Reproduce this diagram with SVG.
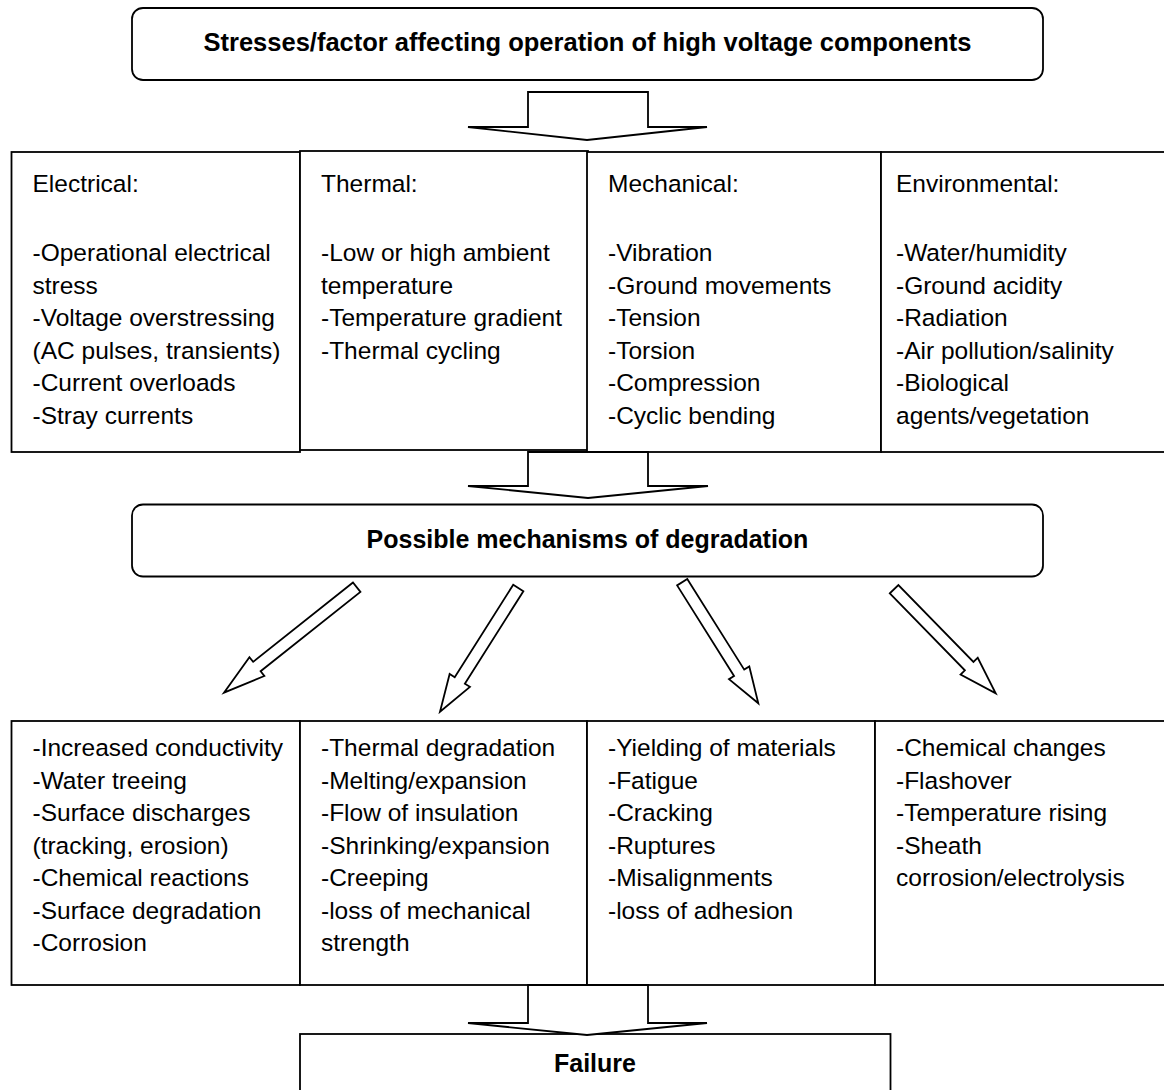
<svg xmlns="http://www.w3.org/2000/svg" width="1164" height="1090" viewBox="0 0 1164 1090">
<style>
.box{fill:#fff;stroke:#000;stroke-width:1.8}
.arr{fill:#fff;stroke:#000;stroke-width:1.8;stroke-linejoin:miter}
.t{font-family:"Liberation Sans",Arial,sans-serif;font-size:24.5px;fill:#000}
.b{font-family:"Liberation Sans",Arial,sans-serif;font-size:25px;font-weight:bold;fill:#000;text-anchor:middle}
</style>
<rect width="1164" height="1090" fill="#fff"/>

<g id="top">
<rect class="box" x="132" y="8" width="911" height="72" rx="11"/>
<text class="b" x="587.5" y="51" style="font-size:25.5px">Stresses/factor affecting operation of high voltage components</text>
</g>

<g id="electrical">
<rect class="box" x="11.5" y="152" width="288.5" height="300"/>
<text class="t" x="32.5" y="191.5">Electrical:</text>
<text class="t"><tspan x="32.5" y="261">-Operational electrical</tspan><tspan x="32.5" dy="32.5">stress</tspan><tspan x="32.5" dy="32.5">-Voltage overstressing</tspan><tspan x="32.5" dy="32.5">(AC pulses, transients)</tspan><tspan x="32.5" dy="32.5">-Current overloads</tspan><tspan x="32.5" dy="32.5">-Stray currents</tspan></text>
</g>
<g id="thermal">
<rect class="box" x="300" y="151" width="288" height="299"/>
<text class="t" x="321" y="191.5">Thermal:</text>
<text class="t"><tspan x="321" y="261">-Low or high ambient</tspan><tspan x="321" dy="32.5">temperature</tspan><tspan x="321" dy="32.5">-Temperature gradient</tspan><tspan x="321" dy="32.5">-Thermal cycling</tspan></text>
</g>
<g id="mechanical">
<rect class="box" x="587" y="152" width="294" height="300"/>
<text class="t" x="608" y="191.5">Mechanical:</text>
<text class="t"><tspan x="608" y="261">-Vibration</tspan><tspan x="608" dy="32.5">-Ground movements</tspan><tspan x="608" dy="32.5">-Tension</tspan><tspan x="608" dy="32.5">-Torsion</tspan><tspan x="608" dy="32.5">-Compression</tspan><tspan x="608" dy="32.5">-Cyclic bending</tspan></text>
</g>
<g id="environmental">
<rect class="box" x="881" y="152" width="300" height="300"/>
<text class="t" x="896" y="191.5">Environmental:</text>
<text class="t"><tspan x="896" y="261">-Water/humidity</tspan><tspan x="896" dy="32.5">-Ground acidity</tspan><tspan x="896" dy="32.5">-Radiation</tspan><tspan x="896" dy="32.5">-Air pollution/salinity</tspan><tspan x="896" dy="32.5">-Biological</tspan><tspan x="896" dy="32.5">agents/vegetation</tspan></text>
</g>

<g id="mechanisms">
<rect class="box" x="132" y="504.5" width="911" height="72" rx="11"/>
<text class="b" x="587.5" y="547.5">Possible mechanisms of degradation</text>
</g>

<g id="deg-electrical">
<rect class="box" x="11.5" y="721" width="288.5" height="264"/>
<text class="t"><tspan x="32.5" y="756">-Increased conductivity</tspan><tspan x="32.5" dy="32.5">-Water treeing</tspan><tspan x="32.5" dy="32.5">-Surface discharges</tspan><tspan x="32.5" dy="32.5">(tracking, erosion)</tspan><tspan x="32.5" dy="32.5">-Chemical reactions</tspan><tspan x="32.5" dy="32.5">-Surface degradation</tspan><tspan x="32.5" dy="32.5">-Corrosion</tspan></text>
</g>
<g id="deg-thermal">
<rect class="box" x="300" y="721" width="287" height="264"/>
<text class="t"><tspan x="321" y="756">-Thermal degradation</tspan><tspan x="321" dy="32.5">-Melting/expansion</tspan><tspan x="321" dy="32.5">-Flow of insulation</tspan><tspan x="321" dy="32.5">-Shrinking/expansion</tspan><tspan x="321" dy="32.5">-Creeping</tspan><tspan x="321" dy="32.5">-loss of mechanical</tspan><tspan x="321" dy="32.5">strength</tspan></text>
</g>
<g id="deg-mechanical">
<rect class="box" x="587" y="721" width="288" height="264"/>
<text class="t"><tspan x="608" y="756">-Yielding of materials</tspan><tspan x="608" dy="32.5">-Fatigue</tspan><tspan x="608" dy="32.5">-Cracking</tspan><tspan x="608" dy="32.5">-Ruptures</tspan><tspan x="608" dy="32.5">-Misalignments</tspan><tspan x="608" dy="32.5">-loss of adhesion</tspan></text>
</g>
<g id="deg-environmental">
<rect class="box" x="875" y="721" width="306" height="264"/>
<text class="t"><tspan x="896" y="756">-Chemical changes</tspan><tspan x="896" dy="32.5">-Flashover</tspan><tspan x="896" dy="32.5">-Temperature rising</tspan><tspan x="896" dy="32.5">-Sheath</tspan><tspan x="896" dy="32.5">corrosion/electrolysis</tspan></text>
</g>

<g id="failure">
<rect class="box" x="300" y="1034" width="590.5" height="80"/>
<text class="b" x="595" y="1072">Failure</text>
</g>

<g id="connectors">
<polygon class="arr" points="528,92 648,92 648,127 707,127 587,140 468,127 528,127"/>
<polygon class="arr" points="528,452 648,452 648,486 708,486 588,498 468,486 528,486"/>
<polygon class="arr" points="352.97,582.5 253.15,661.86 249.41,657.16 224,692.7 264.35,675.96 260.61,671.26 360.43,591.9"/>
<polygon class="arr" points="513.23,584.79 454.72,677.23 449.65,674.02 440,711.7 469.93,686.86 464.86,683.65 523.37,591.21"/>
<polygon class="arr" points="677.12,585.39 734.06,676.01 728.98,679.2 758.3,703.3 749.3,666.44 744.22,669.63 687.28,579.01"/>
<polygon class="arr" points="889.81,593.39 964.87,670.3 960.57,674.49 995.7,693.3 977.75,657.73 973.45,661.92 898.39,585.01"/>
<polygon class="arr" points="528,985 648,985 648,1023 707,1023 587,1035 468,1023 528,1023"/>
</g>
</svg>
